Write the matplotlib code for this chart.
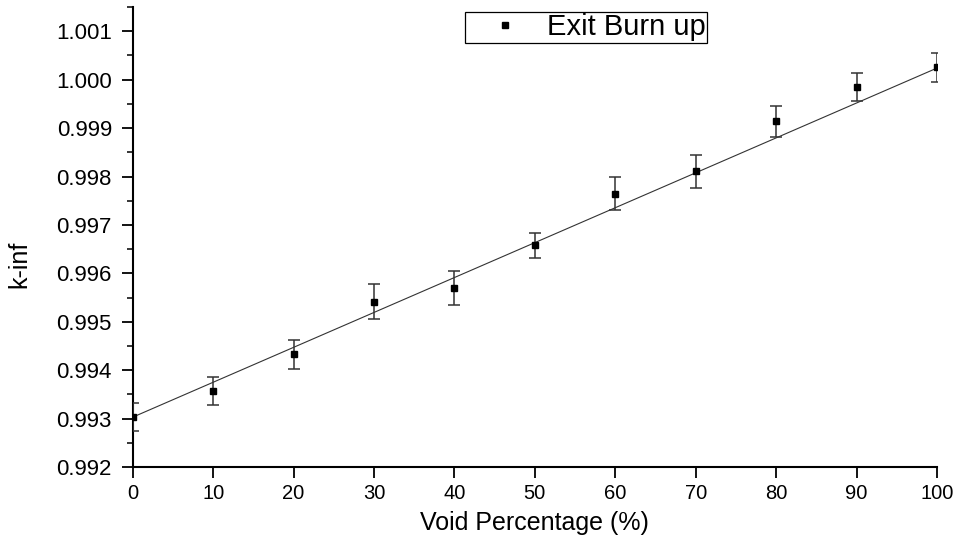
import matplotlib
matplotlib.use("Agg")
import matplotlib.pyplot as plt
from matplotlib.lines import Line2D
from matplotlib.ticker import MultipleLocator, FormatStrFormatter
import numpy as np

# Data ###############################################
void_pct = [0, 10, 20, 30, 40, 50, 60, 70, 80, 90, 100]
k_inf = [0.99303, 0.99357, 0.99433, 0.99541, 0.99570, 0.99658,
         0.99764, 0.99811, 0.99914, 0.99984, 1.00026]
k_err = [0.00029, 0.00029, 0.00030, 0.00036, 0.00035, 0.00026,
         0.00034, 0.00034, 0.00032, 0.00029, 0.00030]

# Linear fit as drawn in the reference
fit_intercept = 0.99303
fit_slope = 0.0000721

plt.rcParams['font.family'] = ['Liberation Sans', 'DejaVu Sans']

fig = plt.figure(figsize=(9.62, 5.44), dpi=100)
ax = fig.add_axes([0.138, 0.1415, 0.836, 0.8455])

xfit = np.array([0, 100])
ax.plot(xfit, fit_intercept + fit_slope * xfit, color='#333333', lw=0.8, zorder=1)

ax.errorbar(void_pct, k_inf, yerr=k_err, fmt='s', color='black',
            ecolor='#333333', elinewidth=1.1, capsize=4.3, capthick=1.1,
            markersize=5, zorder=3)

ax.set_xlim(0, 100)
ax.set_ylim(0.992, 1.0015)
ax.xaxis.set_major_locator(MultipleLocator(10))
ax.yaxis.set_major_locator(MultipleLocator(0.001))
ax.yaxis.set_minor_locator(MultipleLocator(0.0005))
ax.yaxis.set_major_formatter(FormatStrFormatter('%.3f'))

for side in ['top', 'right']:
    ax.spines[side].set_visible(False)
for side in ['left', 'bottom']:
    ax.spines[side].set_linewidth(1.5)

ax.tick_params(axis='both', which='major', direction='out', length=8,
               width=1.3, labelsize=14.5)
ax.tick_params(axis='x', pad=4)
ax.tick_params(axis='y', which='minor', direction='out', length=4, width=1.1)
ax.tick_params(axis='y', labelsize=16, pad=7)

ax.set_xlabel('Void Percentage (%)', fontsize=18, labelpad=6)
ax.set_ylabel('k-inf', fontsize=18)
ax.yaxis.set_label_coords(-0.126, 0.44)

# Legend box with single marker ######################
handle = Line2D([], [], ls='none', marker='s', color='black', markersize=5)
leg = ax.legend([handle], ['Exit Burn up'], loc='upper left',
                bbox_to_anchor=(0.413, 0.99), fontsize=21,
                frameon=True, fancybox=False, framealpha=1, edgecolor='black',
                handlelength=2.65, handletextpad=0.1, borderpad=0.05,
                borderaxespad=0)
leg.get_frame().set_linewidth(0.9)

fig.savefig('out.png', dpi=100)
